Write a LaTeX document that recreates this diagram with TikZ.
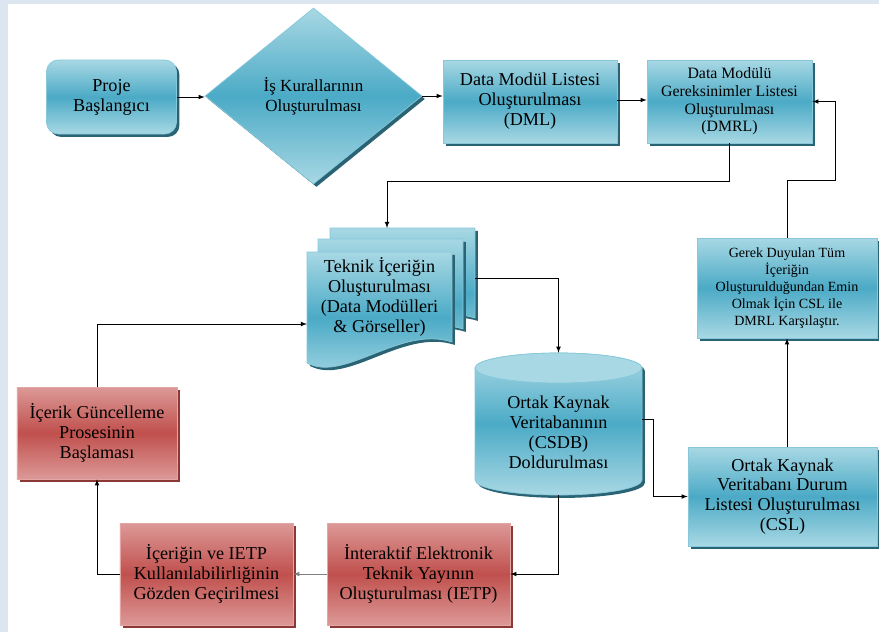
\documentclass[tikz,border=0pt]{standalone}
\usepackage{fontspec}
\setmainfont{Liberation Serif}
\usetikzlibrary{shapes.geometric,shadows}
\definecolor{frameblue}{HTML}{DCE6F1}
\definecolor{bluetop}{HTML}{A8D8E4}
\definecolor{bluemid}{HTML}{4BAAC6}
\definecolor{blueline}{HTML}{86C8DA}
\definecolor{blueshadow}{HTML}{2A6474}
\definecolor{redtop}{HTML}{DC9997}
\definecolor{redmid}{HTML}{C0504D}
\definecolor{redline}{HTML}{E3A6A4}
\definecolor{redshadow}{HTML}{8C3836}

\begin{document}
\begin{tikzpicture}[x=0.03cm,y=-0.03cm,>=latex,
  bluebox/.style={rectangle,draw=blueline,line width=0.6pt,top color=bluetop,bottom color=bluetop,middle color=bluemid,
    align=center,inner sep=1pt,font={\fontsize{15.5}{17}\selectfont},
    drop shadow={shadow xshift=2.5pt,shadow yshift=-2.5pt,fill=blueshadow,opacity=1}},
  redbox/.style={bluebox,draw=redline,top color=redtop,bottom color=redtop,middle color=redmid,
    drop shadow={shadow xshift=2.5pt,shadow yshift=-2.5pt,fill=redshadow,opacity=1}},
  docpage/.style={draw=blueline,line width=0.6pt,top color=bluetop,bottom color=bluetop,middle color=bluemid,
    drop shadow={shadow xshift=2.5pt,shadow yshift=-2.5pt,fill=blueshadow,opacity=1}},
  arr/.style={->,line width=0.8pt}]
% frame
\fill[frameblue] (0,0) rectangle (879,632);
\fill[white] (8,4) rectangle (879,632);

% top row
\node[bluebox,rounded corners=10pt,minimum width=3.9cm,minimum height=2.22cm] (proje) at (111.5,97) {Proje\\Başlangıcı};
\node[bluebox,diamond,inner sep=0pt,minimum width=6.51cm,minimum height=5.28cm,font={\fontsize{14.5}{17}\selectfont}] (kural) at (313.5,96) {İş Kurallarının\\Oluşturulması};
\node[bluebox,minimum width=5.22cm,minimum height=2.49cm] (dml) at (530,101.5) {Data Modül Listesi\\Oluşturulması\\(DML)};
\node[bluebox,minimum width=4.95cm,minimum height=2.49cm,font={\fontsize{13.5}{15}\selectfont}] (dmrl) at (729.5,101.5) {Data Modülü\\Gereksinimler Listesi\\Oluşturulması\\(DMRL)};

% document stack
\path[docpage,shift={(23,-24)}] (307,252) -- (452,252) -- (452,342) .. controls (400,325) and (345,383) .. (307,363) -- cycle;
\path[docpage,shift={(11,-13)}] (307,252) -- (452,252) -- (452,342) .. controls (400,325) and (345,383) .. (307,363) -- cycle;
\path[docpage] (307,252) -- (452,252) -- (452,342) .. controls (400,325) and (345,383) .. (307,363) -- cycle;
\node[align=center,font={\fontsize{15.5}{17}\selectfont}] (teknik) at (379.5,297) {Teknik İçeriğin\\Oluşturulması\\(Data Modülleri\\\& Görseller)};
\coordinate (teknik-top) at (387,228);
\coordinate (teknik-in) at (307,324);
\coordinate (teknik-out) at (475,278);

% database
\path[docpage] (475,368) -- (475,480) arc[start angle=180,end angle=360,x radius=2.505cm,y radius=0.45cm]
  -- (642,368) arc[start angle=0,end angle=180,x radius=2.505cm,y radius=0.45cm] -- cycle;
\path[draw=blueline,line width=0.6pt,fill=bluetop] (558.5,368) ellipse[x radius=2.505cm,y radius=0.45cm];
\node[inner sep=0pt,minimum width=5.01cm,minimum height=4.26cm] (csdb) at (558.5,424) {};
\node[align=center,font={\fontsize{15.5}{17}\selectfont}] (csdb-text) at (558.5,432) {Ortak Kaynak\\Veritabanının\\(CSDB)\\Doldurulması};

% right column
\node[bluebox,minimum width=5.67cm,minimum height=2.97cm] (csl) at (782.5,496.5) {Ortak Kaynak\\Veritabanı Durum\\Listesi Oluşturulması\\(CSL)};
\node[bluebox,minimum width=5.4cm,minimum height=3.0cm,font={\fontsize{12}{14.5}\selectfont}] (check) at (787,288) {Gerek Duyulan Tüm\\İçeriğin\\Oluşturulduğundan Emin\\Olmak İçin CSL ile\\DMRL Karşılaştır.};

% red boxes
\node[redbox,minimum width=5.49cm,minimum height=3.06cm] (ietp) at (418.5,574) {İnteraktif Elektronik\\Teknik Yayının\\Oluşturulması (IETP)};
\node[redbox,minimum width=5.19cm,minimum height=3.06cm] (review) at (206.5,574) {İçeriğin ve IETP\\Kullanılabilirliğinin\\Gözden Geçirilmesi};
\node[redbox,minimum width=4.8cm,minimum height=2.76cm] (guncel) at (97,433) {İçerik Güncelleme\\Prosesinin\\Başlaması};

% connectors
\draw[arr] (proje.east) -- (kural.west |- proje.east);
\draw[arr] (kural.east) -- (kural.east -| dml.west);
\draw[arr] (dml.east |- 0,100) -- (dmrl.west |- 0,100);
\draw[arr] (dmrl.south) -- ++(0,38) -| (teknik-top);
\draw[arr] (teknik-out) -| (csdb.north);
\draw[arr] (csdb.east) ++(0,-5) -- ++(11,0) |- (csl.west);
\draw[arr] (csdb.south) |- (ietp.east);
\draw[arr,draw=gray] (ietp.west) -- (review.east);
\draw[arr] (review.west) -| (guncel.south);
\draw[arr] (guncel.north) |- (teknik-in);
\draw[arr] (csl.north -| check.south) -- (check.south);
\draw[arr] (check.north) -- ++(0,-57) -- ++(48,0) |- (dmrl.east);
\end{tikzpicture}
\end{document}
